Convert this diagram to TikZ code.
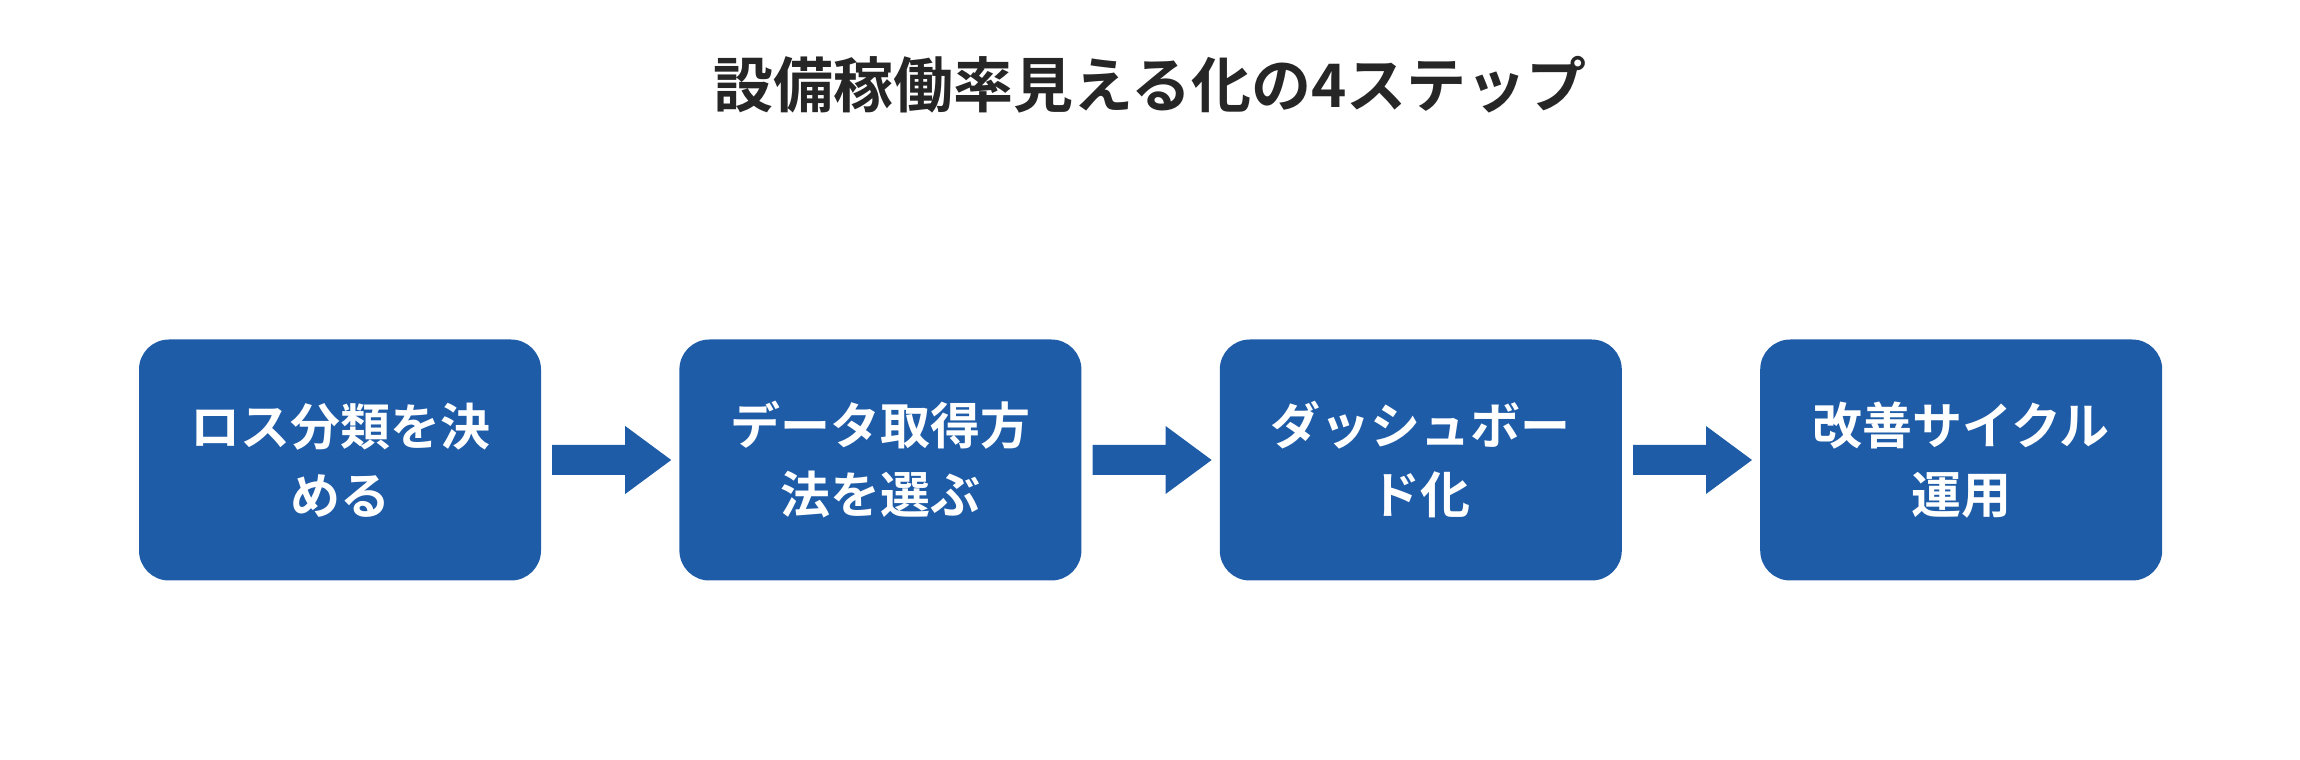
\documentclass[tikz,border=0pt]{standalone}
\usepackage{fontspec}
\setmainfont{Noto Sans CJK JP}[BoldFont={* Bold}]
\usetikzlibrary{positioning}
\definecolor{stepblue}{HTML}{1F5CA8}
\definecolor{titlegray}{HTML}{262626}
\begin{document}
\begin{tikzpicture}[x = 1pt, y = 1pt,
	stepbox/.style = {fill = stepblue, rounded corners = 30pt, minimum width = 402pt,
		minimum height = 241pt, text = white, align = center,
		font = \fontsize{50}{69}\selectfont\bfseries, inner sep = 0pt},
	flowarrow/.style = {fill = stepblue}]

	% Frame
	
	\useasboundingbox (0, 0) rectangle (2300, 760);
	
	% Title
	
	\node [font = \fontsize{60}{70}\selectfont\bfseries, text = titlegray] (title) at (1150, 675) {設備稼働率見える化の4ステップ};
	
	% The four steps
	
	\node [stepbox] (s1) at (340, 300) {ロス分類を決\\める};
	\node [stepbox, right = 138pt of s1] (s2) {データ取得方\\法を選ぶ};
	\node [stepbox, right = 138pt of s2] (s3) {ダッシュボー\\ド化};
	\node [stepbox, right = 138pt of s3] (s4) {改善サイクル\\運用};
	
	% Block arrows between steps
	
	\foreach \a/\b in {s1/s2, s2/s3, s3/s4} {
		\fill [flowarrow] ([xshift = 11pt, yshift = -15pt] \a.east) -- ++(73, 0) -- ++(0, -19)
			-- ([xshift = -8pt] \b.west) -- ([xshift = 84pt, yshift = 34pt] \a.east)
			-- ++(0, -19) -- ([xshift = 11pt, yshift = 15pt] \a.east) -- cycle;
	}
		
\end{tikzpicture}
\end{document}
